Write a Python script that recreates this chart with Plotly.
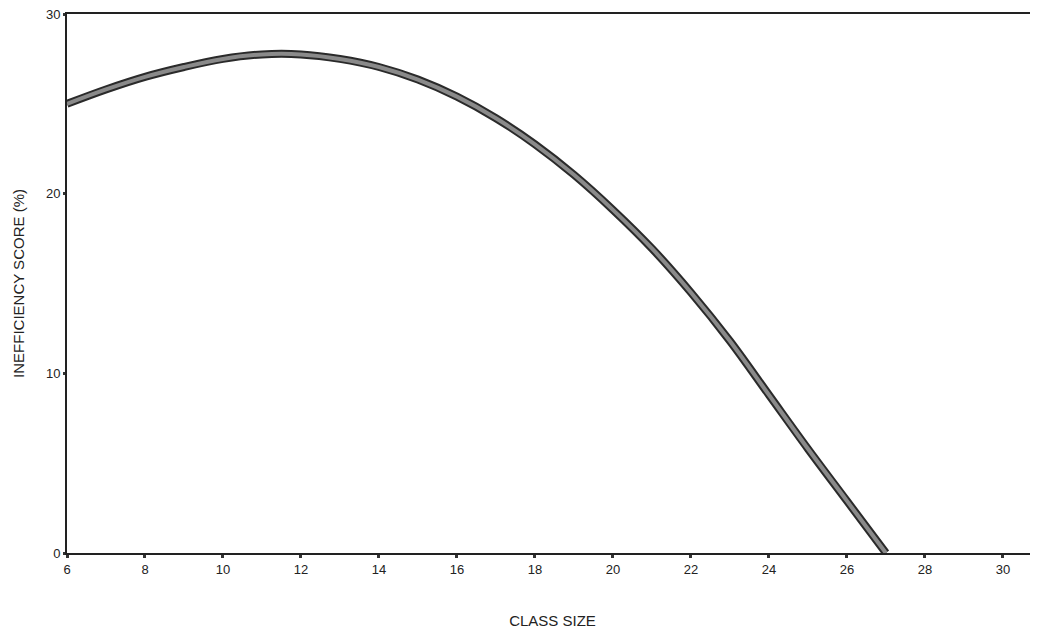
import plotly.graph_objects as go

class_size = [6, 7, 8, 9, 10, 11, 12, 13, 14, 15, 16, 17, 18, 19, 20, 21, 22, 23, 24, 25, 26, 27]
inefficiency = [25.0, 25.8, 26.5, 27.05, 27.5, 27.75, 27.75, 27.5, 27.05, 26.35, 25.4, 24.2,
                22.75, 21.05, 19.1, 16.95, 14.5, 11.8, 8.8, 5.8, 2.9, 0.0]
x_ticks = [6, 8, 10, 12, 14, 16, 18, 20, 22, 24, 26, 28, 30]
y_ticks = [0, 10, 20, 30]

fig = go.Figure()
fig.add_trace(go.Scatter(x=class_size, y=inefficiency, mode="lines",
                         line=dict(color="#2a2a2a", width=8, shape="spline", smoothing=1.0),
                         hoverinfo="skip", showlegend=False))
fig.add_trace(go.Scatter(x=class_size, y=inefficiency, mode="lines",
                         line=dict(color="#8a8a8a", width=4, shape="spline", smoothing=1.0),
                         showlegend=False))

font_family = "Liberation Sans, Arial, sans-serif"
fig.update_layout(
    width=1030, height=629,
    margin=dict(l=59, r=0, t=6, b=84, autoexpand=False),
    paper_bgcolor="white", plot_bgcolor="white",
    font=dict(family=font_family, color="#222", size=13),
    xaxis=dict(range=[6, 30.9], tickvals=x_ticks, ticktext=[str(v) for v in x_ticks],
               showgrid=False, zeroline=False, showline=True, linecolor="#222", linewidth=2,
               mirror=True, ticks="outside", ticklen=3, tickwidth=3, tickcolor="#333",
               tickfont=dict(size=13), automargin=False, ticklabeloverflow="allow",
               title=dict(text="CLASS SIZE", font=dict(size=15), standoff=40)),
    yaxis=dict(range=[0, 30], tickvals=y_ticks, ticktext=[str(v) for v in y_ticks],
               showgrid=False, zeroline=False, showline=True, linecolor="#222", linewidth=2,
               ticks="outside", ticklen=2, tickwidth=3, tickcolor="#333",
               tickfont=dict(size=13), automargin=False, ticklabeloverflow="allow",
               title=dict(text="INEFFICIENCY SCORE (%)", font=dict(size=15), standoff=18)),
)

fig.write_html("out.html")
